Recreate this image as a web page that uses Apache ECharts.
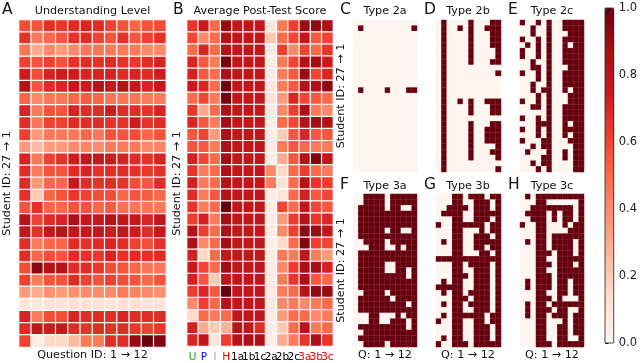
<!DOCTYPE html>
<html><head><meta charset="utf-8">
<script src="https://cdn.jsdelivr.net/npm/echarts@6/dist/echarts.min.js"></script>
<style>html,body{margin:0;padding:0;background:#fff}#c{width:640px;height:363px}</style>
</head><body><div id="c"></div>
<script>
const studentIds = ['27','26','25','24','23','22','21','20','19','18','17','16','15','14','13','12','11','10','9','8','7','6','5','4','3','2','1'];
const questionIds = ['1','2','3','4','5','6','7','8','9','10','11','12'];
const scoreCats = ['U','P','I','H','1a','1b','1c','2a','2b','2c','3a','3b','3c'];

const understanding = [
[0.58,0.56,0.66,0.64,0.68,0.71,0.68,0.61,0.56,0.51,0.56,0.58],
[0.66,0.45,0.51,0.56,0.66,0.68,0.61,0.56,0.66,0.56,0.61,0.66],
[0.46,0.30,0.40,0.35,0.40,0.46,0.46,0.45,0.45,0.45,0.40,0.40],
[0.61,0.56,0.61,0.56,0.66,0.68,0.66,0.68,0.66,0.64,0.68,0.71],
[0.74,0.58,0.71,0.74,0.74,0.71,0.71,0.71,0.68,0.71,0.68,0.74],
[0.82,0.56,0.68,0.71,0.76,0.74,0.82,0.76,0.82,0.76,0.71,0.76],
[0.51,0.40,0.46,0.46,0.51,0.54,0.51,0.46,0.46,0.46,0.45,0.45],
[0.71,0.45,0.56,0.56,0.71,0.68,0.68,0.74,0.68,0.68,0.66,0.71],
[0.68,0.46,0.61,0.61,0.68,0.68,0.68,0.66,0.66,0.74,0.66,0.68],
[0.61,0.35,0.45,0.45,0.46,0.51,0.46,0.56,0.56,0.58,0.51,0.56],
[0.35,0.25,0.35,0.35,0.40,0.42,0.40,0.45,0.45,0.45,0.40,0.42],
[0.71,0.46,0.61,0.66,0.74,0.78,0.76,0.74,0.71,0.68,0.66,0.71],
[0.68,0.45,0.56,0.56,0.68,0.71,0.66,0.68,0.68,0.66,0.64,0.66],
[0.68,0.35,0.51,0.51,0.76,0.68,0.66,0.68,0.66,0.58,0.56,0.68],
[0.66,0.20,0.51,0.56,0.64,0.61,0.58,0.58,0.51,0.56,0.54,0.51],
[0.56,0.66,0.51,0.51,0.56,0.56,0.51,0.54,0.48,0.46,0.46,0.46],
[0.82,0.61,0.68,0.71,0.85,0.78,0.76,0.82,0.78,0.76,0.71,0.78],
[0.78,0.66,0.76,0.82,0.78,0.76,0.78,0.74,0.78,0.74,0.68,0.76],
[0.68,0.45,0.51,0.51,0.68,0.66,0.68,0.71,0.68,0.61,0.58,0.66],
[0.68,0.51,0.58,0.56,0.68,0.66,0.64,0.71,0.66,0.68,0.66,0.68],
[0.58,0.93,0.82,0.82,0.68,0.68,0.64,0.58,0.56,0.51,0.46,0.46],
[0.61,0.45,0.56,0.56,0.68,0.61,0.56,0.61,0.58,0.56,0.51,0.56],
[0.35,0.30,0.38,0.35,0.38,0.40,0.40,0.40,0.45,0.42,0.40,0.38],
[0.10,0.08,0.10,0.10,0.12,0.12,0.12,0.10,0.12,0.12,0.10,0.10],
[0.71,0.45,0.58,0.58,0.71,0.68,0.68,0.68,0.71,0.68,0.68,0.68],
[0.68,0.78,0.74,0.76,0.68,0.66,0.68,0.66,0.68,0.64,0.61,0.64],
[0.61,0.05,0.15,0.15,0.25,0.45,0.45,0.68,0.68,0.90,1.00,0.95]
];

const postTest = [
[0.65,0.75,0.50,0.90,0.78,0.78,0.78,0.08,0.45,0.62,0.90,0.92,0.85],
[0.60,0.40,0.50,0.82,0.78,0.78,0.78,0.20,0.50,0.60,0.78,0.55,0.60],
[0.50,0.70,0.50,0.82,0.78,0.78,0.78,0.05,0.62,0.40,0.60,0.50,0.65],
[0.70,0.55,0.45,0.98,0.78,0.78,0.78,0.05,0.45,0.60,0.82,0.88,0.75],
[0.72,0.55,0.50,0.85,0.78,0.78,0.78,0.05,0.45,0.55,0.90,0.60,0.70],
[0.75,0.70,0.50,0.98,0.78,0.78,0.78,0.08,0.45,0.55,0.82,0.85,0.92],
[0.50,0.60,0.45,0.98,0.78,0.78,0.78,0.10,0.35,0.70,0.60,0.55,0.50],
[0.65,0.30,0.50,0.85,0.78,0.78,0.78,0.05,0.40,0.62,0.85,0.45,0.40],
[0.70,0.55,0.45,0.88,0.78,0.78,0.78,0.05,0.50,0.60,0.82,0.88,0.85],
[0.55,0.60,0.35,0.85,0.78,0.78,0.78,0.05,0.20,0.55,0.70,0.55,0.55],
[0.55,0.55,0.45,0.85,0.78,0.78,0.78,0.05,0.45,0.55,0.50,0.45,0.45],
[0.72,0.60,0.50,0.88,0.78,0.78,0.78,0.05,0.30,0.55,0.82,0.95,0.78],
[0.65,0.45,0.50,0.85,0.78,0.78,0.78,0.40,0.15,0.50,0.62,0.50,0.45],
[0.72,0.45,0.50,0.82,0.78,0.78,0.78,0.45,0.10,0.50,0.82,0.65,0.62],
[0.68,0.45,0.55,0.82,0.78,0.78,0.78,0.05,0.10,0.50,0.72,0.55,0.60],
[0.65,0.45,0.50,1.00,0.78,0.78,0.78,0.05,0.60,0.50,0.78,0.60,0.55],
[0.62,0.72,0.45,0.88,0.78,0.78,0.78,0.05,0.35,0.62,0.82,0.65,0.70],
[0.82,0.62,0.50,0.85,0.78,0.78,0.78,0.05,0.40,0.62,0.92,0.90,0.78],
[0.85,0.40,0.50,0.88,0.78,0.78,0.78,0.05,0.15,0.50,0.95,0.62,0.60],
[0.72,0.15,0.50,0.78,0.78,0.78,0.78,0.05,0.45,0.45,0.78,0.45,0.35],
[0.75,0.60,0.50,0.88,0.78,0.78,0.78,0.05,0.40,0.62,0.85,0.88,0.72],
[0.72,0.55,0.20,0.78,0.78,0.78,0.78,0.05,0.45,0.65,0.85,0.55,0.50],
[0.62,0.70,0.55,1.00,0.78,0.78,0.78,0.05,0.45,0.50,0.82,0.92,0.90],
[0.40,0.62,0.50,0.82,0.78,0.78,0.78,0.05,0.40,0.45,0.40,0.45,0.50],
[0.15,0.50,0.45,0.50,0.78,0.78,0.78,0.05,0.35,0.50,0.50,0.40,0.45],
[0.72,0.30,0.20,0.28,0.82,0.78,0.68,0.05,0.20,0.50,0.80,0.45,0.50],
[0.70,0.78,0.10,0.62,0.82,0.85,0.85,0.05,0.30,0.45,0.65,0.85,0.65]
];

const type2a = [
'000000000000','010000000001','000000000000','000000000000','000000000000','000000000000','000000000000',
'000000000000','000000000000','000000000000','000000000000','000000000000','010000100011','000000000000',
'000000000000','000000000000','000000000000','000000000000','000000000000','000000000000','000000000000',
'000000000000','000000000000','000000000000','000000000000','000000000000','000000000000'];
const type2b = [
'010000100011','010010100111','010000100011','010000100011','010000100011','010000100001','010000100001',
'010000100011','010000000000','010000000001','010000000000','010000000000','010000000000','010000000000',
'010010100111','010000100011','010000100011','010000000000','010000100011','010000100111','010000100111',
'010000100111','010000100001','010000100011','010000100001','010000000000','010000000001'];
const type2c = [
'100101001111','001001001111','001001000111','100101001111','010101001011','100101001111','100101001111',
'001001001111','001101000111','100101001111','000101001111','001001001111','001011001011','000101000111',
'100101000111','001101001111','000001001111','100101001111','000111001011','100101001111','000101001011',
'100011000111','001011000011','010001001011','000011001011','001011000011','000101000011'];
const type3a = [
'001111011111','001111011111','011111011001','011111111111','011111111111','011111111111','011111011001',
'011111111111','001111011111','000111001011','011111111111','011111111111','011111001111','011111001101',
'011111111101','011111111111','011111111111','001111011111','011111101111','011111111101','011111111111',
'000110001011','000110011101','011111111101','001111111111','011111111111','001111011111'];
const type3b = [
'000110111011','000110011101','001111011101','011110011111','000110011101','100111111011','000110001011',
'000110011101','010110011111','000110011011','000110001101','111111111111','000110111101','000110011101',
'000111011101','010110011101','111110011101','010110111101','000111011101','010110111101','000110011101',
'010111111011','100110011011','000110011101','000110011101','010110011101','100111011111'];
const type3c = [
'010111111111','000110000001','001111111101','011110101101','001110101101','100110001011','000110000111',
'000110111111','010110111101','000110111101','000111011101','000110011111','000111011101','000110011111',
'000111011111','010111011011','010111011011','000110011011','000111010001','010110111111','010111011001',
'010110111011','000110001011','000110011011','000110011011','000110011001','000111011111'];

const reds = ['#fff5f0','#fee0d2','#fcbba1','#fc9272','#fb6a4a','#ef3b2c','#cb181d','#a50f15','#67000d'];
const FONT = 'DejaVu Sans';

function matData(m){const d=[];m.forEach((row,r)=>row.forEach((v,c)=>d.push([c,r,v])));return d;}
function binData(m){const d=[];m.forEach((row,r)=>row.split('').forEach((ch,c)=>d.push([c,r,+ch])));return d;}

const panels = [
 {l:19, t:20, w:147, h:327, cats:questionIds, data:matData(understanding), border:1.2, bc:'#ffffff'},
 {l:187,t:20, w:146, h:327, cats:scoreCats, data:matData(postTest), border:1.2, bc:'#ffffff', labels:true},
 {l:353,t:20, w:64, h:152, cats:questionIds, data:binData(type2a), border:0.5, bc:'rgba(255,255,255,0.15)'},
 {l:436,t:20, w:65, h:152, cats:questionIds, data:binData(type2b), border:0.5, bc:'rgba(255,255,255,0.15)'},
 {l:520,t:20, w:64, h:152, cats:questionIds, data:binData(type2c), border:0.5, bc:'rgba(255,255,255,0.15)'},
 {l:353,t:194,w:64, h:153, cats:questionIds, data:binData(type3a), border:0.5, bc:'rgba(255,255,255,0.15)'},
 {l:436,t:194,w:65, h:153, cats:questionIds, data:binData(type3b), border:0.5, bc:'rgba(255,255,255,0.15)'},
 {l:520,t:194,w:64, h:153, cats:questionIds, data:binData(type3c), border:0.5, bc:'rgba(255,255,255,0.15)'}
];

const labelColors = {U:'#1a9e1a',P:'#0000ff',I:'#aaaaaa',H:'#ff0000','3a':'#ff0000','3b':'#ff0000','3c':'#ff0000'};

const grid=[], xAxis=[], yAxis=[], series=[];
panels.forEach((p,i)=>{
  grid.push({left:p.l, top:p.t, width:p.w, height:p.h});
  xAxis.push({type:'category', gridIndex:i, data:p.cats, axisLine:{show:false}, axisTick:{show:false}, splitLine:{show:false},
    axisLabel: p.labels ? {show:true, interval:0, margin:6, fontSize:10.5, fontFamily:FONT,
      formatter:v=>'{'+(labelColors[v]?('c'+v):'k')+'|'+v+'}',
      rich:{k:{color:'#000',fontSize:10.5,fontFamily:FONT},
        cU:{color:labelColors.U,fontSize:10.5,fontFamily:FONT},cP:{color:labelColors.P,fontSize:10.5,fontFamily:FONT},
        cI:{color:labelColors.I,fontSize:10.5,fontFamily:FONT},cH:{color:labelColors.H,fontSize:10.5,fontFamily:FONT},
        c3a:{color:'#ff0000',fontSize:10.5,fontFamily:FONT},c3b:{color:'#ff0000',fontSize:10.5,fontFamily:FONT},c3c:{color:'#ff0000',fontSize:10.5,fontFamily:FONT}}}
      : {show:false}});
  yAxis.push({type:'category', gridIndex:i, data:studentIds, inverse:true, show:false});
  series.push({type:'heatmap', xAxisIndex:i, yAxisIndex:i, data:p.data,
    itemStyle:{borderColor:p.bc, borderWidth:p.border}, emphasis:{disabled:true}});
});
// colorbar axis grid
grid.push({left:605, top:8, width:9, height:335, show:true, borderColor:'#222', borderWidth:0.8, backgroundColor:'transparent', z:10});
xAxis.push({type:'value', gridIndex:8, show:false, min:0, max:1});
yAxis.push({type:'value', gridIndex:8, min:0, max:1, interval:0.2, position:'right',
  axisLine:{show:false}, axisTick:{show:true, length:3.5, lineStyle:{color:'#222'}}, splitLine:{show:false},
  axisLabel:{fontSize:11.5, color:'#222', fontFamily:FONT, margin:5, formatter:v=>v.toFixed(1)}});

function txt(x,y,s,size,opts){return Object.assign({type:'text', x:x, y:y, z:20, style:{text:s, fontSize:size, fontFamily:FONT, fill:'#111', align:'left', verticalAlign:'middle'}}, opts||{});}
function ctxt(x,y,s,size){const t=txt(x,y,s,size); t.style.align='center'; return t;}
function vtxt(x,y,s,size){const t=txt(x,y,s,size); t.style.align='center'; t.rotation=Math.PI/2; return t;}

const graphic = [
  txt(2,10,'A',15.5), ctxt(92.5,11,'Understanding Level',11.2),
  txt(173,10,'B',15.5), ctxt(260,11,'Average Post-Test Score',11.2),
  txt(340,10,'C',15.5), ctxt(385,11,'Type 2a',11.2),
  txt(424,10,'D',15.5), ctxt(468,11,'Type 2b',11.2),
  txt(508,10,'E',15.5), ctxt(552,11,'Type 2c',11.2),
  txt(340,185,'F',15.5), ctxt(385,186,'Type 3a',11.2),
  txt(424,185,'G',15.5), ctxt(468,186,'Type 3b',11.2),
  txt(508,185,'H',15.5), ctxt(552,186,'Type 3c',11.2),
  vtxt(7,183.5,'Student ID: 27 \u2192 1',11.2),
  vtxt(177,183.5,'Student ID: 27 \u2192 1',11.2),
  vtxt(341,96,'Student ID: 27 \u2192 1',11.2),
  vtxt(341,270.5,'Student ID: 27 \u2192 1',11.2),
  ctxt(92.5,355,'Question ID: 1 \u2192 12',11.2),
  ctxt(385,355,'Q: 1 \u2192 12',11.2),
  ctxt(468,355,'Q: 1 \u2192 12',11.2),
  ctxt(552,355,'Q: 1 \u2192 12',11.2)
];

const chart = echarts.init(document.getElementById('c'), null, {renderer:'canvas'});
chart.setOption({
  animation:false,
  backgroundColor:'#ffffff',
  grid, xAxis, yAxis, series, graphic,
  visualMap:{type:'continuous', min:0, max:1, seriesIndex:[0,1,2,3,4,5,6,7], calculable:false, orient:'vertical',
    left:605, top:8, itemWidth:9, itemHeight:335, padding:0, text:null, showLabel:false, hoverLink:false,
    inRange:{color:reds}, textStyle:{fontSize:0}}
});
</script></body></html>
